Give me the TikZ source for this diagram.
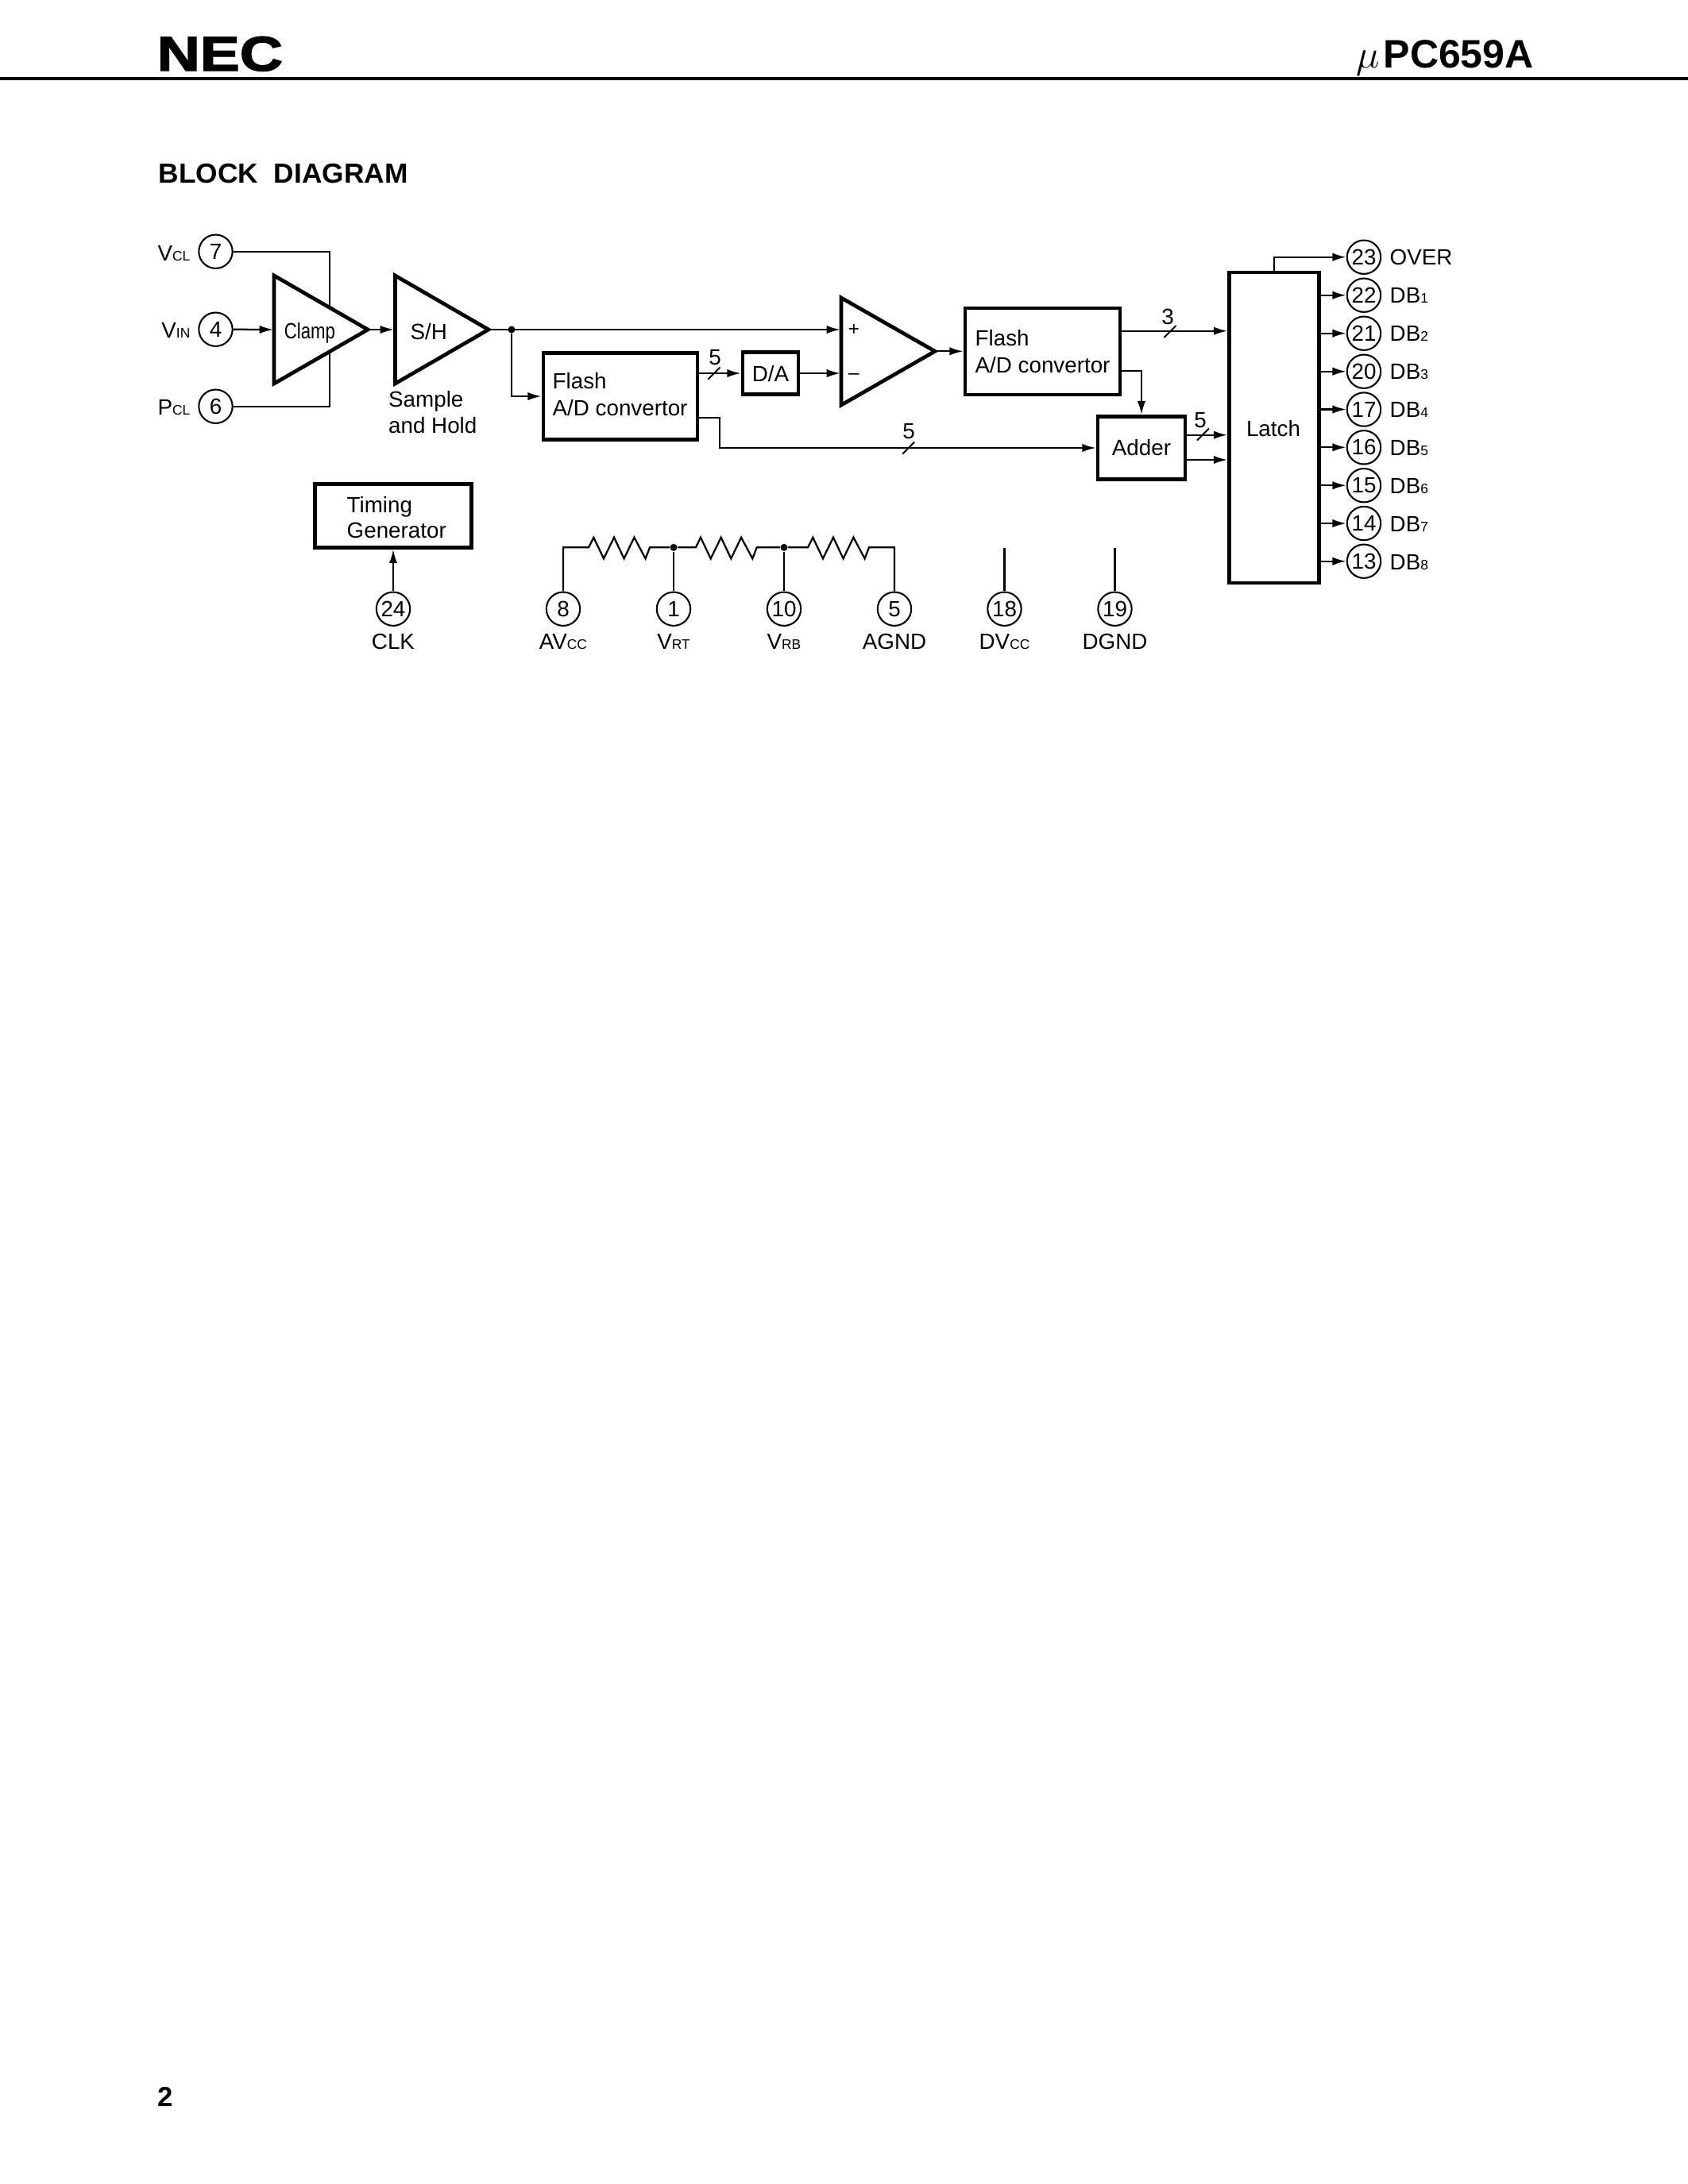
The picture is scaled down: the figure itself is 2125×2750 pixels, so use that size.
\documentclass[tikz,border=0pt]{standalone}
\usepackage{fontspec}
\setmainfont{Liberation Sans}
\newfontfamily\necfont[FakeBold=2.2]{Liberation Sans Bold}
\usetikzlibrary{arrows.meta}
\newcommand{\sbs}[1]{{\fontsize{5}{5}\selectfont #1}}
\tikzset{
  x=0.288pt, y=-0.288pt,
  wire/.style={line width=0.65pt, line cap=butt},
  arw/.style={wire, -{Latex[length=5pt, width=3pt]}},
  heavy/.style={line width=1.35pt, line join=miter},
  blockbox/.style={draw, line width=1.35pt, inner sep=0pt, minimum width=#1},
  pin/.style={draw, circle, line width=0.6pt, minimum size=12.2pt, inner sep=0pt, font=\fontsize{8}{8}\selectfont},
  lbl/.style={anchor=base west, inner sep=0pt, font=\fontsize{8}{8}\selectfont},
  clbl/.style={anchor=base, inner sep=0pt, font=\fontsize{8}{8}\selectfont},
  rlbl/.style={anchor=base east, inner sep=0pt, font=\fontsize{8}{8}\selectfont},
  junction/.style={circle, fill=black, inner sep=0pt, minimum size=2.6pt},
  slashmark/.style={line width=0.55pt}
}
\begin{document}
\begin{tikzpicture}
\useasboundingbox (0,0) rectangle (2125,2750);
% header
\coordinate (hl) at (0,99); \coordinate (hr) at (2125,99);
\draw[line width=1.15pt] (hl) -- (hr);
\node[lbl, font=\necfont\fontsize{17.7}{17.7}\selectfont] (nec) at (197,89) {\scalebox{1.22}[1]{NEC}};
\node[anchor=base west, inner sep=0pt, font=\fontsize{15}{15}\selectfont] (mu) at (1707,85) {$\mu$};
\node[lbl, font=\bfseries\fontsize{14.4}{14.4}\selectfont] (part) at (1741,85) {PC659A};
\node[lbl, font=\bfseries\fontsize{10}{10}\selectfont] (title) at (199,230) {\scalebox{1.017}[1]{BLOCK\ \ DIAGRAM}};
\node[lbl, font=\bfseries\fontsize{10}{10}\selectfont] (pageno) at (198,2652) {2};

% input pins
\node[pin] (p7) at (271.5,316.7) {7};
\node[pin] (p4) at (271.5,414.7) {4};
\node[pin] (p6) at (271.5,511.7) {6};
\node[rlbl] (vcl) at (240,328) {V\sbs{CL}};
\node[rlbl] (vin) at (240,425.7) {V\sbs{IN}};
\node[rlbl] (pcl) at (240,522.7) {P\sbs{CL}};

% triangles
\coordinate (clampA) at (345,347); \coordinate (clampB) at (345,483); \coordinate (clampC) at (463,415);
\coordinate (shA) at (497.5,347); \coordinate (shB) at (497.5,483); \coordinate (shC) at (615,415);
\coordinate (cmpA) at (1059,375); \coordinate (cmpB) at (1059,510); \coordinate (cmpC) at (1177,442.3);
\coordinate (clampT) at (415,386); \coordinate (clampU) at (415,444);
\coordinate (clampI) at (344,415); \coordinate (shI) at (496,415);
\coordinate (cmpP) at (1058,415); \coordinate (cmpM) at (1058,470);
\draw[heavy] (clampA) -- (clampC) -- (clampB) -- cycle;
\draw[heavy] (shA) -- (shC) -- (shB) -- cycle;
\draw[heavy] (cmpA) -- (cmpC) -- (cmpB) -- cycle;
\node[clbl] (clampt) at (390,426) {\scalebox{.8}[1]{Clamp}};
\node[lbl] (sht) at (516,427) {S/H};
\node[lbl] (sample) at (488.5,512) {Sample};
\node[lbl] (hold) at (488.5,545.7) {and Hold};
\node[clbl] (plus) at (1075,422.5) {\fontsize{7}{7}\selectfont +};
\node[clbl] (minus) at (1075,477) {\fontsize{7}{7}\selectfont –};

% boxes
\node[blockbox=194*0.288pt, minimum height=109*0.288pt] (fa) at (781,499) {};
\node[blockbox=195*0.288pt, minimum height=109*0.288pt] (fb) at (1312.5,442.5) {};
\node[blockbox=70*0.288pt, minimum height=53*0.288pt] (da) at (970,470) {};
\node[blockbox=110*0.288pt, minimum height=79*0.288pt] (adder) at (1437,564) {};
\node[blockbox=113*0.288pt, minimum height=391*0.288pt] (latch) at (1604,538.5) {};
\node[blockbox=197*0.288pt, minimum height=80*0.288pt] (tg) at (495,649.5) {};
\node[lbl] (fa1) at (695,489) {Flash};
\node[lbl] (fa2) at (695,523) {A/D convertor};
\node[lbl] (fb1) at (1227,435.7) {Flash};
\node[lbl] (fb2) at (1227,469) {A/D convertor};
\node[clbl] (dat) at (970,480) {D/A};
\node[clbl] (addt) at (1437,573) {Adder};
\node[clbl] (latt) at (1603,549) {Latch};
\node[lbl] (tg1) at (436,645) {Timing};
\node[lbl] (tg2) at (436,677.7) {Generator};

% input wiring
\draw[wire] (p7) -| (clampT);
\draw[wire] (p6) -| (clampU);
\draw[arw] (p4) -- (clampI);
\draw[arw] (clampC) -- (shI);
\node[junction] (j1) at (644,415) {};
\draw[arw] (shC) -- (cmpP);
\draw[arw] (j1) |- (fa.west);
\coordinate (fa5) at (879,470);
\draw[arw] (fa5) -- (da.west);
\draw[arw] (da.east) -- (cmpM);
\draw[arw] (cmpC) -- (cmpC -| fb.west);
\coordinate (fa6) at (879,526); \coordinate (fa7) at (906,564);
\draw[arw] (fa6) -| (fa7) -- (adder.west);
\coordinate (fb3) at (1410,416.7); \coordinate (fb4) at (1410,467);
\draw[arw] (fb3) -- (fb3 -| latch.west);
\draw[arw] (fb4) -| (adder.north);
\coordinate (ad1) at (1492,547.7); \coordinate (ad2) at (1492,579);
\draw[arw] (ad1) -- (ad1 -| latch.west);
\draw[arw] (ad2) -- (ad2 -| latch.west);

% bus marks
\coordinate (s1) at (899,470); \coordinate (s2) at (1473,417.5); \coordinate (s3) at (1143.7,564); \coordinate (s4) at (1514.5,547);
\foreach \s in {s1,s2,s3,s4} \draw[slashmark] (\s) ++(-7.5,7.5) -- ++(15,-15);
\node[clbl] (n5a) at (900,459.3) {5};
\node[clbl] (n3) at (1470,408) {3};
\node[clbl] (n5b) at (1144,552.7) {5};
\node[clbl] (n5c) at (1511,538) {5};

% outputs
\node[pin] (p23) at (1717,323.7) {23};
\node[pin] (p22) at (1717,371.7) {22};
\node[pin] (p21) at (1717,419.7) {21};
\node[pin] (p20) at (1717,467.7) {20};
\node[pin] (p17) at (1717,515.5) {17};
\node[pin] (p16) at (1717,563.3) {16};
\node[pin] (p15) at (1717,611.2) {15};
\node[pin] (p14) at (1717,659) {14};
\node[pin] (p13) at (1717,706.7) {13};
\draw[arw] (latch.north) |- (p23.west);
\foreach \p in {p22,p21,p20,p17,p16,p15,p14,p13} \draw[arw] (latch.east |- \p) -- (\p.west);
\node[lbl] (over) at (1749,333.3) {OVER};
\node[lbl] (db1) at (1749,381) {DB\sbs{1}};
\node[lbl] (db2) at (1749,429) {DB\sbs{2}};
\node[lbl] (db3) at (1749,477) {DB\sbs{3}};
\node[lbl] (db4) at (1749,525) {DB\sbs{4}};
\node[lbl] (db5) at (1749,573) {DB\sbs{5}};
\node[lbl] (db6) at (1749,621) {DB\sbs{6}};
\node[lbl] (db7) at (1749,669) {DB\sbs{7}};
\node[lbl] (db8) at (1749,717) {DB\sbs{8}};

% bottom pins
\node[pin] (p24) at (495,766.7) {24};
\node[pin] (p8) at (709,766.7) {8};
\node[pin] (p1) at (848,766.7) {1};
\node[pin] (p10) at (987,766.7) {10};
\node[pin] (p5) at (1126,766.7) {5};
\node[pin] (p18) at (1264.5,766.7) {18};
\node[pin] (p19) at (1403.5,766.7) {19};
\draw[arw] (p24) -- (tg.south -| p24);
\node[clbl] (clk) at (495,817) {CLK};
\node[clbl] (avcc) at (709,817) {AV\sbs{CC}};
\node[clbl] (vrt) at (848,817) {V\sbs{RT}};
\node[clbl] (vrb) at (987,817) {V\sbs{RB}};
\node[clbl] (agnd) at (1126,817) {AGND};
\node[clbl] (dvcc) at (1264.5,817) {DV\sbs{CC}};
\node[clbl] (dgnd) at (1403.5,817) {DGND};

% resistor ladder
\node[junction] (j2) at (848,689.3) {};
\node[junction] (j3) at (987,689.3) {};
\coordinate (top8) at (709,689.3); \coordinate (top5) at (1126,689.3);
\coordinate (top18) at (1264.5,690); \coordinate (top19) at (1403.5,690);
\draw[wire, line join=miter] (p8) |- (top8) -- (741,689.3) -- (747.3,676.7) -- (760,703.3) -- (773,676.7) -- (785.6,703.3) -- (798.4,676.7) -- (812.6,703.3) -- (818,689.3) -- (j2);
\draw[wire, line join=miter] (j2) -- (876,689.3) -- (882,676.7) -- (894.7,703.3) -- (907.7,676.7) -- (920.3,703.3) -- (933.1,676.7) -- (947.3,703.3) -- (952.7,689.3) -- (j3);
\draw[wire, line join=miter] (j3) -- (1017,689.3) -- (1023.3,676.7) -- (1036,703.3) -- (1049,676.7) -- (1061.6,703.3) -- (1074.4,676.7) -- (1088.6,703.3) -- (1094,689.3) -- (top5) -- (p5);
\draw[wire] (p1) -- (j2);
\draw[wire] (p10) -- (j3);
\draw[wire] (p18) -- (top18);
\draw[wire] (p19) -- (top19);
\end{tikzpicture}
\end{document}
